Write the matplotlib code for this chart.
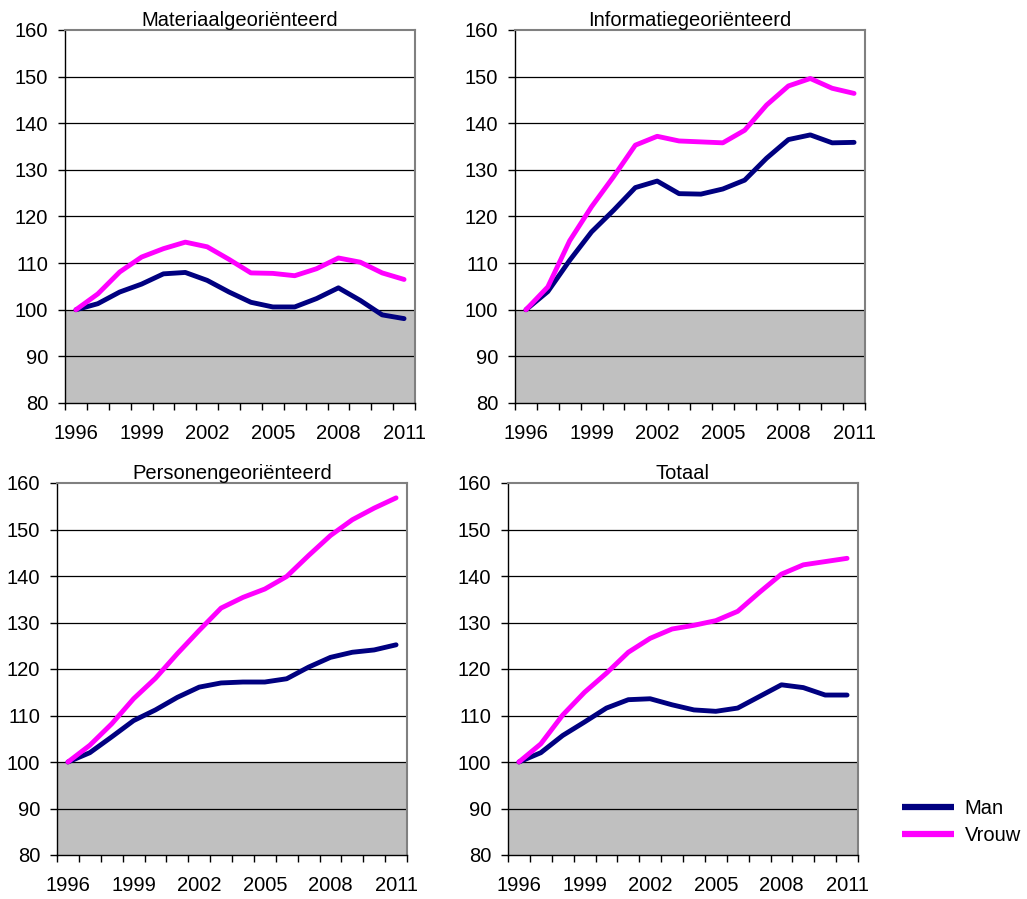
import numpy as np
import matplotlib.pyplot as plt

plt.rcParams['font.family'] = ['Liberation Sans', 'DejaVu Sans']

years = list(range(1996, 2012))
year_labels = ['1996', '1999', '2002', '2005', '2008', '2011']

titles = ['Materiaalgeoriënteerd', 'Informatiegeoriënteerd', 'Personengeoriënteerd', 'Totaal']

# index 1996 = 100
man_materiaal = [100, 101.3, 103.8, 105.5, 107.7, 108.0, 106.3, 103.8, 101.6, 100.6, 100.6, 102.4, 104.7, 102.0, 98.9, 98.1]
vrouw_materiaal = [100, 103.4, 108.1, 111.3, 113.1, 114.5, 113.5, 110.8, 107.9, 107.8, 107.3, 108.8, 111.1, 110.2, 107.9, 106.5]

man_informatie = [100, 103.9, 110.6, 116.7, 121.3, 126.2, 127.6, 124.9, 124.8, 125.9, 127.8, 132.5, 136.5, 137.5, 135.8, 135.9]
vrouw_informatie = [100, 104.9, 114.8, 122.1, 128.5, 135.3, 137.2, 136.2, 136.0, 135.8, 138.5, 143.9, 148.0, 149.6, 147.5, 146.4]

man_personen = [100, 102.0, 105.4, 108.9, 111.2, 113.9, 116.1, 117.0, 117.2, 117.2, 117.9, 120.4, 122.5, 123.6, 124.1, 125.2]
vrouw_personen = [100, 103.6, 108.2, 113.6, 118.0, 123.3, 128.3, 133.1, 135.4, 137.2, 139.9, 144.4, 148.7, 152.1, 154.6, 156.8]

man_totaal = [100, 102.0, 105.7, 108.6, 111.6, 113.4, 113.6, 112.3, 111.2, 110.9, 111.6, 114.1, 116.6, 116.0, 114.4, 114.4]
vrouw_totaal = [100, 103.9, 110.1, 115.0, 119.1, 123.6, 126.6, 128.6, 129.4, 130.4, 132.4, 136.5, 140.4, 142.4, 143.1, 143.8]

series = [
    (man_materiaal, vrouw_materiaal),
    (man_informatie, vrouw_informatie),
    (man_personen, vrouw_personen),
    (man_totaal, vrouw_totaal),
]

W, H = 1027, 899
fig = plt.figure(figsize=(W / 100, H / 100), dpi=100)

# axes boxes in pixels: left, right, top, bottom
boxes = [
    (65, 415, 30, 403),
    (515, 865, 30, 403),
    (57, 407, 483, 855),
    (508, 858, 483, 855),
]

x = np.arange(len(years))
lines = []
for (l, r, t, b), title, (man, vrouw) in zip(boxes, titles, series):
    ax = fig.add_axes([l / W, 1 - b / H, (r - l) / W, (b - t) / H])
    ax.axhspan(80, 100, color='#C0C0C0', lw=0, zorder=0)
    for yv in range(90, 160, 10):
        ax.axhline(yv, color='black', lw=0.9, zorder=1)
    lm, = ax.plot(x, man, color='#000080', lw=3.5, solid_capstyle='round', zorder=3)
    lv, = ax.plot(x, vrouw, color='#FF00FF', lw=3.5, solid_capstyle='round', zorder=3)
    lines = [lm, lv]
    ax.set_xlim(-0.5, len(years) - 0.5)
    ax.set_ylim(80, 160)
    ax.set_yticks(range(80, 161, 10))
    ax.set_xticks(x[::3])
    ax.set_xticklabels(year_labels)
    ax.set_xticks(np.arange(-0.5, len(years)), minor=True)
    ax.tick_params(axis='x', which='major', length=0, pad=15, labelsize=14.5)
    ax.tick_params(axis='x', which='minor', length=5, width=1, color='black')
    ax.tick_params(axis='y', length=5, width=1, labelsize=14.5, pad=7)
    for side in ('top', 'right'):
        ax.spines[side].set_color('#808080')
        ax.spines[side].set_linewidth(1.5)
    for side in ('left', 'bottom'):
        ax.spines[side].set_color('black')
        ax.spines[side].set_linewidth(1.0)
    ax.set_title(title, fontsize=14.5, pad=3)

leg = fig.legend(lines, ['Man', 'Vrouw'], loc='center left', bbox_to_anchor=(902 / W, 1 - 822 / H),
                 frameon=False, fontsize=14.5, handlelength=2.6, handletextpad=0.5, labelspacing=0.4,
                 borderpad=0, borderaxespad=0)
for h in leg.get_lines():
    h.set_linewidth(4.5)
    h.set_solid_capstyle('butt')

fig.savefig('out.png', dpi=100)
